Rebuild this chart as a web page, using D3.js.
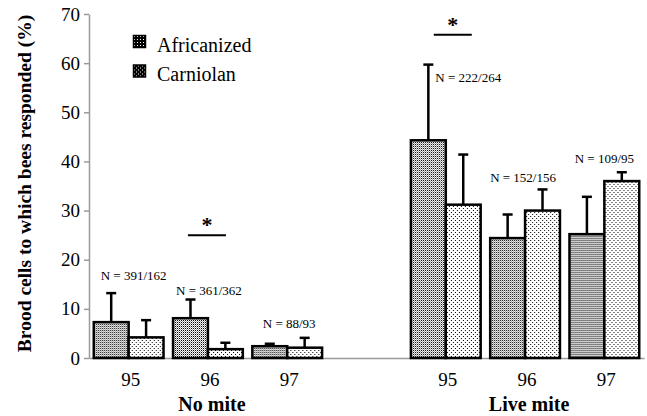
<!DOCTYPE html>
<html>
<head>
<meta charset="utf-8">
<script src="https://cdn.jsdelivr.net/npm/d3@7"></script>
<style>
  body { margin: 0; background: #fff; }
</style>
</head>
<body>
<div id="chart"></div>
<script>
// data
const treatments = ["No mite", "Live mite"];
const years = ["95", "96", "97"];
const series = ["Africanized", "Carniolan"];
// order: No mite 95,96,97 then Live mite 95,96,97
const africanized = [7.3, 8.1, 2.4, 44.3, 24.4, 25.2];
const africanizedErr = [5.9, 3.8, 0.5, 15.4, 4.8, 7.6];
const carniolan = [4.2, 1.8, 2.1, 31.2, 30.0, 36.0];
const carniolanErr = [3.5, 1.3, 2.0, 10.2, 4.3, 1.8];
const sampleSizes = ["N = 391/162", "N = 361/362", "N = 88/93", "N = 222/264", "N = 152/156", "N = 109/95"];
const significant = [false, true, false, true, false, false];
const yTicks = [0, 10, 20, 30, 40, 50, 60, 70];

const width = 647, height = 416;
const margin = { top: 14, right: 3, bottom: 58, left: 89 };
const serif = "'Liberation Serif', 'Times New Roman', Times, serif";

// one row per year-group
const groups = [];
treatments.forEach((t, ti) => {
    years.forEach((yr, yi) => {
        const i = ti * years.length + yi;
        groups.push({
            key: t + " " + yr, treatment: t, year: yr,
            values: [
                { s: series[0], v: africanized[i], e: africanizedErr[i] },
                { s: series[1], v: carniolan[i], e: carniolanErr[i] }
            ],
            n: sampleSizes[i], sig: significant[i]
        });
    });
});
// empty slot between the two treatments
const slots = groups.slice(0, 3).map(g => g.key).concat(["gap"], groups.slice(3).map(g => g.key));

const svg = d3.select("#chart").append("svg")
    .attr("width", width).attr("height", height)
    .style("font-family", serif);

// fill patterns
const defs = svg.append("defs");
function dots(id, size, bg, fg, pts) {
    const p = defs.append("pattern").attr("id", id)
        .attr("width", size).attr("height", size).attr("patternUnits", "userSpaceOnUse");
    p.append("rect").attr("width", size).attr("height", size).attr("fill", bg);
    pts.forEach(([px, py, c]) => p.append("rect")
        .attr("x", px).attr("y", py).attr("width", 1).attr("height", 1).attr("fill", c || fg));
}
dots("patA", 2, "#fff", "#000", [[0, 0], [1, 1, "#999"]]);
dots("patC", 4, "#fff", "#000", [[0, 0], [2, 2]]);
// inverted versions for the small legend keys
dots("keyA", 3, "#000", "#fff", [[1, 1]]);
dots("keyC", 4, "#000", "#fff", [[1, 1], [3, 3]]);
const fills = { "Africanized": "url(#patA)", "Carniolan": "url(#patC)" };
const keyFills = { "Africanized": "url(#keyA)", "Carniolan": "url(#keyC)" };

const x0 = d3.scaleBand()
    .domain(slots)
    .range([margin.left, width - margin.right])
    .paddingInner(0.12)
    .paddingOuter(0.06);
const x1 = d3.scaleBand()
    .domain(series)
    .range([0, x0.bandwidth()]);
const y = d3.scaleLinear()
    .domain([0, 70])
    .range([height - margin.bottom, margin.top]);

// y axis
const yAxis = svg.append("g")
    .attr("transform", `translate(${margin.left},0)`)
    .call(d3.axisLeft(y).tickValues(yTicks).tickSize(5).tickPadding(4).tickSizeOuter(0));
yAxis.attr("font-family", null).attr("font-size", null);
yAxis.select(".domain").attr("stroke", "#9a9a9a").attr("stroke-width", 1.5);
yAxis.selectAll(".tick line").attr("stroke", "#9a9a9a").attr("stroke-width", 1.5);
yAxis.selectAll(".tick text").style("font-family", serif).style("font-size", "19px");

// x axis (year labels)
const xAxis = svg.append("g")
    .attr("transform", `translate(0,${height - margin.bottom})`)
    .call(d3.axisBottom(x0).tickSize(0).tickPadding(14.5).tickSizeOuter(0)
        .tickFormat(k => k === "gap" ? "" : k.slice(-2)));
xAxis.attr("font-family", null).attr("font-size", null);
xAxis.select(".domain").attr("stroke", "#9a9a9a").attr("stroke-width", 1.5);
xAxis.selectAll(".tick text").attr("dx", 2).style("font-family", serif).style("font-size", "19px");

// treatment labels under the middle group
treatments.forEach(t => {
    svg.append("text")
        .attr("x", x0(t + " 96") + x0.bandwidth() / 2 + 4)
        .attr("y", 411)
        .attr("text-anchor", "middle")
        .style("font-family", serif)
        .style("font-size", "20px")
        .style("font-weight", "bold")
        .text(t);
});

// y title
svg.append("text")
    .attr("transform", `translate(31,${(15 + 352) / 2}) rotate(-90)`)
    .attr("text-anchor", "middle")
    .style("font-family", serif)
    .style("font-size", "19.5px")
    .style("font-weight", "bold")
    .text("Brood cells to which bees responded (%)");

// bars
const g = svg.selectAll("g.group")
    .data(groups)
    .enter().append("g")
    .attr("class", "group")
    .attr("transform", d => `translate(${x0(d.key)},0)`);

// error bars (upper only) drawn first so the bar outline sits on top
g.selectAll("g.err")
    .data(d => d.values)
    .enter().append("g")
    .attr("class", "err")
    .each(function(d) {
        const cx = x1(d.s) + x1.bandwidth() / 2;
        const sel = d3.select(this);
        sel.append("line")
            .attr("x1", cx).attr("x2", cx)
            .attr("y1", y(d.v)).attr("y2", y(d.v + d.e))
            .attr("stroke", "#000").attr("stroke-width", 2.5);
        sel.append("line")
            .attr("x1", cx - 5).attr("x2", cx + 5)
            .attr("y1", y(d.v + d.e)).attr("y2", y(d.v + d.e))
            .attr("stroke", "#000").attr("stroke-width", 2.5);
    });

g.selectAll("rect")
    .data(d => d.values)
    .enter().append("rect")
    .attr("x", d => x1(d.s))
    .attr("y", d => y(d.v))
    .attr("width", x1.bandwidth())
    .attr("height", d => y(0) - y(d.v))
    .attr("fill", d => fills[d.s])
    .attr("stroke", "#000")
    .attr("stroke-width", 2.5);

// N labels (level in data units, horizontal nudge in px)
const nLevel = [15.8, 12.8, 6.1, 56.2, 35.8, 39.7];
const nShift = [5, 1, 2, null, -2, 0];
g.append("text")
    .style("font-family", serif)
    .style("font-size", "13px")
    .attr("y", (d, i) => y(nLevel[i]))
    .attr("x", (d, i) => nShift[i] === null ? x1.bandwidth() / 2 + 7 : x0.bandwidth() / 2 + nShift[i])
    .attr("text-anchor", (d, i) => nShift[i] === null ? "start" : "middle")
    .text(d => d.n);

// significance markers
const sigLevel = [null, 25.0, null, 65.8, null, null];
const sigShift = [0, -1, 0, 7, 0, 0];
g.filter(d => d.sig).each(function(d) {
    const i = groups.indexOf(d);
    const cx = x0.bandwidth() / 2 + sigShift[i];
    const ly = y(sigLevel[i]);
    const sel = d3.select(this);
    sel.append("line")
        .attr("x1", cx - 19).attr("x2", cx + 19)
        .attr("y1", ly).attr("y2", ly)
        .attr("stroke", "#000").attr("stroke-width", 2);
    sel.append("text")
        .attr("x", cx).attr("y", ly - 3)
        .attr("text-anchor", "middle")
        .style("font-family", serif)
        .style("font-size", "22px")
        .style("font-weight", "bold")
        .text("*");
});

// legend
const legend = svg.append("g").attr("transform", "translate(133,35)");
series.forEach((s, i) => {
    const row = legend.append("g").attr("transform", `translate(0,${i * 29.5})`);
    row.append("rect")
        .attr("x", 0.5).attr("y", 0.5)
        .attr("width", 12).attr("height", 12)
        .attr("fill", keyFills[s])
        .attr("stroke", "#000").attr("stroke-width", 1.5);
    row.append("text")
        .attr("x", 24).attr("y", 16.5)
        .style("font-family", serif)
        .style("font-size", "20px")
        .text(s);
});
</script>
</body>
</html>
